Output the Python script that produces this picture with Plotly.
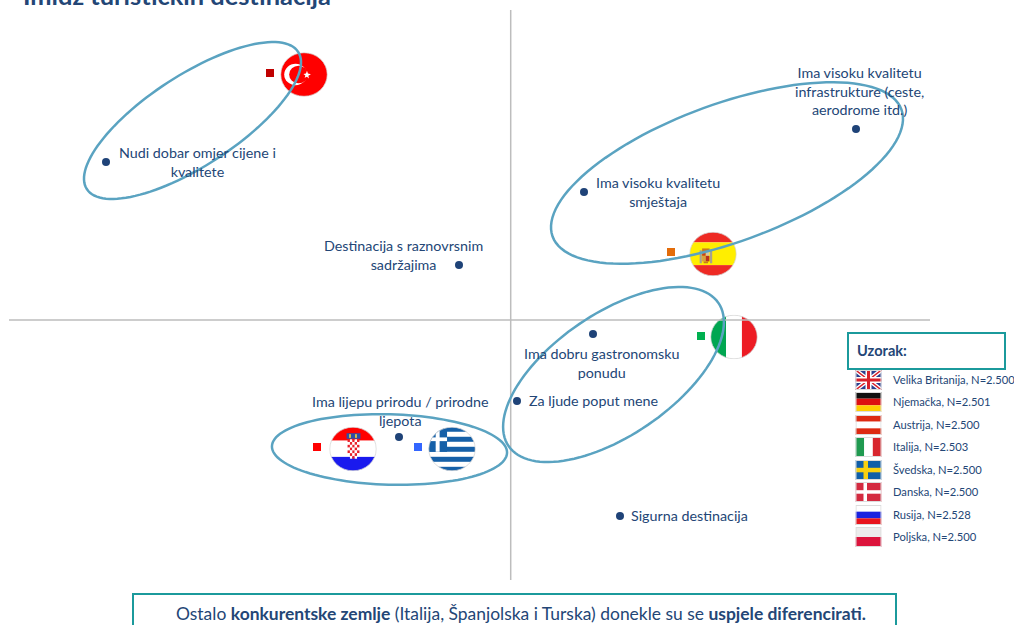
import base64
import numpy as np
import plotly.graph_objects as go

W, H = 1014, 625

# perceptual map values (origin = where the two axes cross)
ATTRIBUTES = ["Nudi dobar omjer cijene i kvalitete", "Ima visoku kvalitetu infrastrukture",
              "Ima visoku kvalitetu smještaja", "Destinacija s raznovrsnim sadržajima",
              "Ima dobru gastronomsku ponudu", "Za ljude poput mene",
              "Ima lijepu prirodu / prirodne ljepota", "Sigurna destinacija"]
ATTR_X = [-4.04, 3.46, 0.74, -0.51, 0.83, 0.07, -1.11, 1.10]
ATTR_Y = [1.58, 1.91, 1.28, 0.55, -0.14, -0.81, -1.17, -1.96]

COUNTRIES = ["Turska", "Španjolska", "Italija", "Hrvatska", "Grčka"]
COUNTRY_X = [-2.40, 1.61, 1.91, -1.93, -0.92]
COUNTRY_Y = [2.47, 0.68, -0.16, -1.27, -1.27]
COUNTRY_COLORS = ["#c00000", "#e36c0a", "#00b050", "#ff0000", "#3366ff"]
FLAG_X = [-2.06, 2.03, 2.24, -1.57, -0.58]
FLAG_Y = [2.455, 0.66, -0.17, -1.29, -1.29]

# label text and where each one sits
LABELS = ["Nudi dobar omjer cijene i<br>kvalitete",
          "Ima visoku kvalitetu<br>infrastrukture (ceste,<br>aerodrome itd.)",
          "Ima visoku kvalitetu<br>smještaja",
          "Destinacija s raznovrsnim<br>sadržajima",
          "Ima dobru gastronomsku<br>ponudu",
          "Za ljude poput mene",
          "Ima lijepu prirodu / prirodne<br>ljepota",
          "Sigurna destinacija"]
LABEL_X = [-3.13, 3.49, 1.475, -1.07, 0.915, 0.83, -1.10, 1.795]
LABEL_Y = [1.58, 2.295, 1.28, 0.655, -0.43, -0.805, -0.91, -1.955]

# clusters: centre, semi axes, tilt in degrees
ELL_X = [-3.175, 2.17, 1.035, -1.205]
ELL_Y = [1.995, 1.47, -0.545, -1.295]
ELL_A = [1.26, 1.856, 1.27, 1.176]
ELL_B = [0.453, 0.69, 0.61, 0.352]
ELL_DEG = [33, 20, 34.3, -1.6]

SAMPLE = ["Velika Britanija, N=2.500", "Njemačka, N=2.501", "Austrija, N=2.500", "Italija, N=2.503",
          "Švedska, N=2.500", "Danska, N=2.500", "Rusija, N=2.528", "Poljska, N=2.500"]
SAMPLE_FLAGS = ["gb", "de", "at", "it", "se", "dk", "ru", "pl"]

TITLE = "Imidž turističkih destinacija"
FOOTER = ("Ostalo <b>konkurentske zemlje</b> (Italija, Španjolska i Turska) donekle su se "
          "<b>uspjele diferencirati.</b>")

NAVY = "#234676"
TEAL = "#1b9a9c"
FONT = "Lato"


def svg_uri(body, w, h):
    svg = (f'<svg xmlns="http://www.w3.org/2000/svg" width="{w*4}" height="{h*4}" '
           f'viewBox="0 0 {w} {h}" preserveAspectRatio="none">{body}</svg>')
    return "data:image/svg+xml;base64," + base64.b64encode(svg.encode()).decode()


def round_flag(body):
    return svg_uri(
        '<defs><clipPath id="c"><circle cx="24" cy="24" r="23.5"/></clipPath></defs>'
        f'<g clip-path="url(#c)">{body}</g>'
        '<circle cx="24" cy="24" r="23.5" fill="none" stroke="#d4d4d4" stroke-width="0.8"/>', 48, 48)


def rect(x, y, w, h, fill):
    return f'<rect x="{x}" y="{y}" width="{w}" height="{h}" fill="{fill}"/>'


def croatia():
    body = rect(0, 0, 48, 15, "#ff0000") + rect(0, 15, 48, 17.5, "#ffffff") + rect(0, 32.5, 48, 15.5, "#1a1aee")
    body += rect(17.5, 7, 14, 6, "#2b4fa8") + rect(20, 8, 2, 4, "#d8c040") + rect(26, 8, 2, 4, "#d8c040")
    for r in range(7):
        for c in range(5):
            if r == 6 and c in (0, 4):
                continue
            color = "#e8202a" if (r + c) % 2 == 0 else "#ffffff"
            body += rect(18.5 + c * 2.4, 13.5 + r * 3, 2.4, 3, color)
    return round_flag(body)


def greece():
    body = rect(0, 0, 48, 48, "#ffffff")
    for i in range(0, 9, 2):
        body += rect(0, i * 5.4, 48, 5.4, "#1560a8")
    body += rect(0, 0, 19, 27, "#1560a8") + rect(7.5, 0, 4, 27, "#ffffff") + rect(0, 11.5, 19, 4, "#ffffff")
    return round_flag(body)


def turkey():
    body = rect(0, 0, 48, 48, "#ff0000")
    body += '<circle cx="15.5" cy="24" r="11.5" fill="#ffffff"/><circle cx="18.5" cy="24" r="9.5" fill="#ff0000"/>'
    body += '<polygon points="27,20 28,23 31,23.6 28.4,25.4 29,28.4 27,26.4 24.6,27.6 25.4,25 23.4,23.4 26,23" fill="#ffffff"/>'
    return round_flag(body)


def spain():
    body = rect(0, 0, 48, 11.5, "#ee2a24") + rect(0, 11.5, 48, 24.5, "#ffee00") + rect(0, 36, 48, 12, "#ee2a24")
    # coat of arms, blurred down to a few patches
    body += rect(10.5, 20, 2.2, 14, "#a8a090") + rect(21, 20, 2.2, 14, "#a8a090")
    body += rect(13, 18, 7.5, 3, "#c87a20") + rect(13, 21, 3.7, 5, "#c8401c") + rect(16.7, 21, 3.7, 5, "#d8c8a0")
    body += rect(13, 26, 3.7, 6, "#d8a040") + rect(16.7, 26, 3.7, 6, "#b83020") + rect(14.5, 32, 4.5, 2, "#c87a20")
    return round_flag(body)


def italy():
    return round_flag(rect(0, 0, 16, 48, "#00a651") + rect(16, 0, 16, 48, "#ffffff") + rect(32, 0, 16, 48, "#ed1c24"))


def small_flag(code):
    w, h = 26, 20
    a, b = h / 3, 2 * h / 3
    if code == "gb":
        body = rect(0, 0, w, h, "#2a3f8f")
        body += f'<path d="M0,0 L{w},{h} M{w},0 L0,{h}" stroke="#ffffff" stroke-width="4"/>'
        body += f'<path d="M0,0 L{w},{h} M{w},0 L0,{h}" stroke="#d8202a" stroke-width="1.5"/>'
        body += rect(10, 0, 6, h, "#ffffff") + rect(0, 7, w, 6, "#ffffff")
        body += rect(11.5, 0, 3, h, "#d8202a") + rect(0, 8.5, w, 3, "#d8202a")
    elif code == "de":
        body = rect(0, 0, w, a, "#111111") + rect(0, a, w, a, "#dd1010") + rect(0, b, w, a, "#ffce00")
    elif code == "at":
        body = rect(0, 0, w, a, "#dd2a12") + rect(0, a, w, a, "#ffffff") + rect(0, b, w, a, "#dd2a12")
    elif code == "it":
        body = rect(0, 0, 8.7, h, "#1f9a50") + rect(8.7, 0, 8.6, h, "#ffffff") + rect(17.3, 0, 8.7, h, "#d8262e")
    elif code == "se":
        body = rect(0, 0, w, h, "#0f5ea8") + rect(8, 0, 4.5, h, "#f8d010") + rect(0, 7.8, w, 4.5, "#f8d010")
    elif code == "dk":
        body = rect(0, 0, w, h, "#d42a40") + rect(8, 0, 3.5, h, "#ffffff") + rect(0, 8.2, w, 3.5, "#ffffff")
    elif code == "ru":
        body = rect(0, 0, w, a, "#ffffff") + rect(0, a, w, a, "#1a22e0") + rect(0, b, w, a, "#e8141c")
    else:
        body = rect(0, 0, w, h / 2, "#ececec") + rect(0, h / 2, w, h / 2, "#dc143c")
    body += f'<rect x="0.5" y="0.5" width="{w-1}" height="{h-1}" fill="none" stroke="#dcdcdc" stroke-width="1"/>'
    return svg_uri(body, w, h)


def ellipse_path(cx, cy, a, b, deg):
    t = np.linspace(0, 2 * np.pi, 121)[:-1]
    r = np.radians(deg)
    xs = cx + a * np.cos(t) * np.cos(r) - b * np.sin(t) * np.sin(r)
    ys = cy + a * np.cos(t) * np.sin(r) + b * np.sin(t) * np.cos(r)
    return "M" + " L".join(f"{x:.4f},{y:.4f}" for x, y in zip(xs, ys)) + " Z"


def px(x):
    return x / W


def py(y):
    return 1 - y / H


fig = go.Figure()

fig.add_trace(go.Scatter(x=ATTR_X, y=ATTR_Y, mode="markers", text=ATTRIBUTES, hoverinfo="text",
                         marker=dict(color="#1f4378", size=8), showlegend=False))
fig.add_trace(go.Scatter(x=COUNTRY_X, y=COUNTRY_Y, mode="markers", text=COUNTRIES, hoverinfo="text",
                         marker=dict(color=COUNTRY_COLORS, size=8, symbol="square"), showlegend=False))

# flags on the map
images = []
for src, x, y in zip([turkey(), spain(), italy(), croatia(), greece()], FLAG_X, FLAG_Y):
    images.append(dict(source=src, xref="x", yref="y", x=x, y=y, sizex=0.475, sizey=0.445,
                       xanchor="center", yanchor="middle", sizing="stretch", layer="below"))

# flags of the sample list
row_y = [380, 402, 425, 447, 470, 492, 515, 537]
for code, y in zip(SAMPLE_FLAGS, row_y):
    images.append(dict(source=small_flag(code), xref="paper", yref="paper", x=px(868.5), y=py(y),
                       sizex=26 / W, sizey=20 / H, xanchor="center", yanchor="middle",
                       sizing="stretch", layer="below"))

shapes = [
    # the two map axes
    dict(type="line", xref="x", yref="y", x0=-5.01, x1=4.20, y0=0, y1=0, line=dict(color="#bdbdbd", width=1.5)),
    dict(type="line", xref="x", yref="y", x0=0.007, x1=0.007, y0=-2.60, y1=3.10, line=dict(color="#bdbdbd", width=1.5)),
    # boxes
    dict(type="rect", xref="paper", yref="paper", x0=px(848), x1=px(1005), y0=py(369), y1=py(333),
         line=dict(color=TEAL, width=2), fillcolor="#ffffff"),
    dict(type="rect", xref="paper", yref="paper", x0=px(133), x1=px(896), y0=py(630), y1=py(594),
         line=dict(color=TEAL, width=2), fillcolor="#ffffff"),
]
for cx, cy, a, b, deg in zip(ELL_X, ELL_Y, ELL_A, ELL_B, ELL_DEG):
    shapes.append(dict(type="path", xref="x", yref="y", path=ellipse_path(cx, cy, a, b, deg),
                       line=dict(color="#5aa3c1", width=2.5), layer="above"))

annotations = []
for text, x, y in zip(LABELS, LABEL_X, LABEL_Y):
    annotations.append(dict(text=text, x=x, y=y, xref="x", yref="y", showarrow=False,
                            xanchor="center", yanchor="middle", align="center",
                            font=dict(color=NAVY, size=14.3, family=FONT)))
for text, y in zip(SAMPLE, row_y):
    annotations.append(dict(text=text, x=px(891), y=py(y - 0.8), xref="paper", yref="paper", showarrow=False,
                            xanchor="left", yanchor="middle", font=dict(color=NAVY, size=11.2, family=FONT)))
annotations.append(dict(text="<b>Uzorak:</b>", x=px(855), y=py(350), xref="paper", yref="paper", showarrow=False,
                        xanchor="left", yanchor="middle", font=dict(color=NAVY, size=14.6, family=FONT)))
annotations.append(dict(text=FOOTER, x=px(520.5), y=py(613), xref="paper", yref="paper", showarrow=False,
                        xanchor="center", yanchor="middle", font=dict(color=NAVY, size=17.45, family=FONT)))
annotations.append(dict(text=f"<b>{TITLE}</b>", x=px(21), y=py(-5), xref="paper", yref="paper", showarrow=False,
                        xanchor="left", yanchor="middle", font=dict(color=NAVY, size=25.4, family=FONT)))

fig.update_layout(
    width=W, height=H,
    margin=dict(l=0, r=0, t=0, b=0),
    paper_bgcolor="#ffffff", plot_bgcolor="#ffffff",
    images=images, shapes=shapes, annotations=annotations,
    xaxis=dict(range=[-5.10, 5.04], visible=False, fixedrange=True),
    yaxis=dict(range=[-3.05, 3.20], visible=False, fixedrange=True),
)

fig.write_html("out.html", config=dict(displayModeBar=False),
               post_script="document.body.style.margin='0';document.documentElement.style.overflow='hidden';")
